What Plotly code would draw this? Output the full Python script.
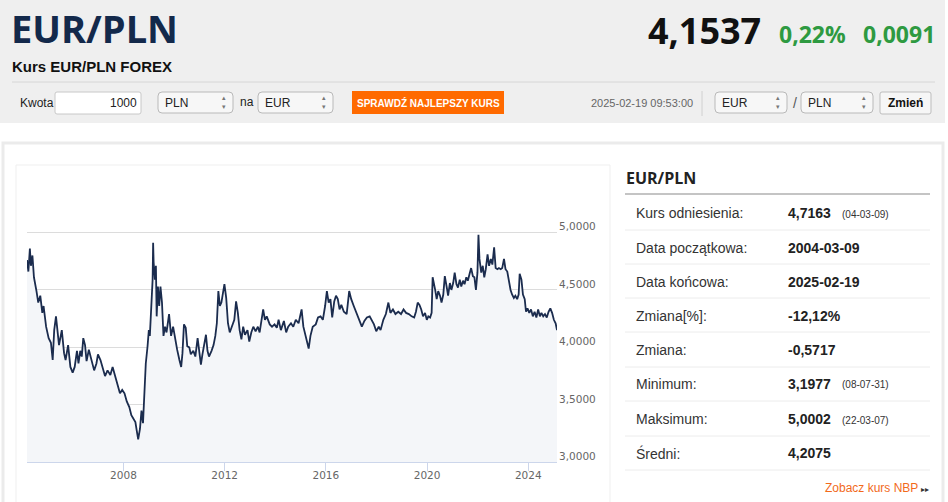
import datetime as dt
import plotly.graph_objects as go

# EUR/PLN: decimal year -> rate
years = [
    2004.186, 2004.24, 2004.30, 2004.34, 2004.40, 2004.46, 2004.56, 2004.63, 2004.71, 2004.79,
    2004.84, 2004.94, 2005.04, 2005.13, 2005.20, 2005.26, 2005.33, 2005.39, 2005.45, 2005.56,
    2005.65, 2005.71, 2005.81, 2005.90, 2005.99, 2006.07, 2006.16, 2006.22, 2006.29, 2006.35,
    2006.41, 2006.48, 2006.54, 2006.63, 2006.73, 2006.84, 2006.93, 2006.99, 2007.09, 2007.18,
    2007.27, 2007.37, 2007.48, 2007.57, 2007.66, 2007.76, 2007.86, 2007.95, 2008.04, 2008.13,
    2008.23, 2008.31, 2008.40, 2008.47, 2008.52, 2008.58, 2008.65, 2008.71, 2008.77, 2008.83,
    2008.88, 2008.95, 2009.00, 2009.04, 2009.10, 2009.15, 2009.17,
    2009.19, 2009.24, 2009.28, 2009.31, 2009.36, 2009.41, 2009.46, 2009.52, 2009.58, 2009.64,
    2009.70, 2009.80, 2009.88, 2009.96, 2010.04, 2010.12, 2010.21, 2010.28, 2010.33, 2010.39,
    2010.46, 2010.52, 2010.60, 2010.66, 2010.76, 2010.84, 2010.93, 2011.00, 2011.06, 2011.12,
    2011.20, 2011.26, 2011.32, 2011.38, 2011.48, 2011.56, 2011.63, 2011.69, 2011.75, 2011.81,
    2011.87, 2011.93, 2011.99, 2012.06, 2012.13, 2012.20, 2012.29, 2012.38, 2012.45, 2012.52,
    2012.59, 2012.66, 2012.73, 2012.80, 2012.90, 2012.97, 2013.05, 2013.13, 2013.22, 2013.31,
    2013.38, 2013.47, 2013.52, 2013.59, 2013.66, 2013.78, 2013.87, 2013.97, 2014.06, 2014.13,
    2014.22,
    2014.34, 2014.43, 2014.51, 2014.62, 2014.71, 2014.81, 2014.92, 2015.04, 2015.11, 2015.20,
    2015.32, 2015.39, 2015.48, 2015.60, 2015.69, 2015.79, 2015.88, 2015.97, 2016.04, 2016.11,
    2016.18, 2016.25, 2016.33, 2016.40, 2016.47, 2016.54, 2016.61, 2016.71, 2016.82, 2016.92,
    2017.00, 2017.10, 2017.20, 2017.31, 2017.42, 2017.52, 2017.62, 2017.73, 2017.80, 2017.90,
    2017.99, 2018.09, 2018.16, 2018.27, 2018.37, 2018.47, 2018.55, 2018.65, 2018.75, 2018.86,
    2018.97, 2019.07, 2019.17, 2019.28, 2019.39, 2019.49, 2019.56, 2019.63, 2019.70,
    2019.77, 2019.84, 2019.92, 2019.99, 2020.05, 2020.12, 2020.18, 2020.22, 2020.27, 2020.32,
    2020.38, 2020.44, 2020.51, 2020.57, 2020.64, 2020.70, 2020.77, 2020.83, 2020.90, 2020.96,
    2021.03, 2021.09, 2021.16, 2021.22, 2021.29, 2021.35, 2021.42, 2021.48, 2021.55, 2021.61,
    2021.68, 2021.74, 2021.81, 2021.87, 2021.93, 2021.99, 2022.03, 2022.07, 2022.14, 2022.20,
    2022.26, 2022.32, 2022.39, 2022.45, 2022.52, 2022.58, 2022.65, 2022.71, 2022.78, 2022.84,
    2022.91, 2022.97, 2023.04, 2023.10, 2023.17, 2023.23, 2023.30, 2023.36, 2023.43, 2023.49,
    2023.56, 2023.62, 2023.66, 2023.73, 2023.79, 2023.86, 2023.91, 2023.97, 2024.04, 2024.11,
    2024.18, 2024.25, 2024.32, 2024.39, 2024.46, 2024.52, 2024.59, 2024.66, 2024.73, 2024.80,
    2024.87, 2024.94, 2025.01, 2025.08, 2025.134,
]
rates = [
    4.76, 4.66, 4.86, 4.71, 4.80, 4.61, 4.49, 4.39, 4.45, 4.30,
    4.36, 4.18, 4.08, 4.04, 3.89, 4.15, 4.27, 4.15, 4.02, 4.15,
    3.95, 3.89, 4.02, 3.83, 3.78, 3.83, 3.97, 3.86, 3.97, 3.92,
    4.08, 4.02, 3.88, 3.98, 3.89, 3.80, 3.86, 3.94, 3.89, 3.82,
    3.75, 3.80, 3.76, 3.83, 3.76, 3.66, 3.60, 3.63, 3.60, 3.53,
    3.48, 3.41, 3.38, 3.35, 3.28, 3.20, 3.29, 3.45, 3.34, 3.57,
    3.86, 4.01, 4.15, 4.10, 4.39, 4.59, 4.91,
    4.74, 4.59, 4.71, 4.27, 4.53, 4.36, 4.53, 4.39, 4.10, 4.18,
    4.13, 4.29, 4.10, 4.18, 4.07, 3.98, 3.89, 3.83, 3.95, 4.20,
    4.17, 4.01, 4.00, 3.94, 3.97, 3.92, 4.08, 3.95, 3.85, 3.94,
    4.02, 4.11, 3.97, 3.92, 3.97, 4.02, 4.10, 4.21, 4.49, 4.36,
    4.39, 4.49, 4.55, 4.43, 4.21, 4.13, 4.18, 4.24, 4.40, 4.30,
    4.15, 4.07, 4.18, 4.11, 4.15, 4.05, 4.13, 4.18, 4.14, 4.18,
    4.13, 4.26, 4.33, 4.24, 4.27, 4.20, 4.18, 4.20, 4.17, 4.24,
    4.15,
    4.23, 4.13, 4.18, 4.21, 4.18, 4.24, 4.21, 4.33, 4.18, 4.10,
    3.99, 4.10, 4.18, 4.20, 4.26, 4.27, 4.24, 4.36, 4.49, 4.39,
    4.42, 4.26, 4.40, 4.45, 4.42, 4.33, 4.37, 4.31, 4.29, 4.49,
    4.42, 4.36, 4.30, 4.24, 4.18, 4.23, 4.26, 4.27, 4.24, 4.20,
    4.14, 4.18, 4.15, 4.24, 4.29, 4.39, 4.30, 4.33, 4.29, 4.31,
    4.29, 4.33, 4.30, 4.29, 4.27, 4.26, 4.31, 4.39, 4.37,
    4.33, 4.27, 4.30, 4.24, 4.27, 4.26, 4.30, 4.61, 4.56, 4.50,
    4.42, 4.49, 4.45, 4.39, 4.46, 4.62, 4.53, 4.45, 4.56, 4.50,
    4.56, 4.65, 4.55, 4.52, 4.59, 4.53, 4.58, 4.55, 4.61, 4.58,
    4.64, 4.69, 4.62, 4.61, 4.50, 4.65, 4.98, 4.77, 4.65, 4.71,
    4.61, 4.68, 4.81, 4.71, 4.77, 4.72, 4.87, 4.69, 4.68, 4.69,
    4.68, 4.69, 4.77, 4.68, 4.66, 4.58, 4.50, 4.46, 4.43, 4.45,
    4.42, 4.46, 4.64, 4.59, 4.46, 4.42, 4.31, 4.34, 4.30, 4.33,
    4.27, 4.31, 4.26, 4.33, 4.27, 4.30, 4.27, 4.29, 4.26, 4.31,
    4.34, 4.30, 4.24, 4.21, 4.15,
]

x_tick_years = [2008, 2012, 2016, 2020, 2024]
y_ticks = [3.0, 3.5, 4.0, 4.5, 5.0, 5.5]

stat_labels = ["Kurs odniesienia:", "Data początkowa:", "Data końcowa:", "Zmiana[%]:",
               "Zmiana:", "Minimum:", "Maksimum:", "Średni:"]
stat_values = ["4,7163", "2004-03-09", "2025-02-19", "-12,12%",
               "-0,5717", "3,1977", "5,0002", "4,2075"]
stat_dates = ["(04-03-09)", "", "", "", "", "(08-07-31)", "(22-03-07)", ""]


def to_date(y):
    yr = int(y)
    a = dt.datetime(yr, 1, 1)
    b = dt.datetime(yr + 1, 1, 1)
    return a + (b - a) * (y - yr)


dates = [to_date(y) for y in years]

W, H = 948, 502
ARIAL = "Liberation Sans, Arial, sans-serif"
OPEN = "Open Sans, sans-serif"


def px(x):
    return x / W


def py(y):
    return 1 - y / H


shapes = []
notes = []


def text(x, y, s, size, color, weight="normal", anchor="left", family=ARIAL):
    # annotation boxes carry ~2px of padding, take it back off
    if anchor == "left":
        x -= 2
    elif anchor == "right":
        x += 2
    notes.append(dict(x=px(x), y=py(y), xref="paper", yref="paper", text=s, showarrow=False,
                      xanchor=anchor, yanchor="middle",
                      font=dict(size=size, color=color, family=family, weight=weight)))


def rect(x0, y0, x1, y1, fill, line="rgba(0,0,0,0)", lw=1):
    shapes.append(dict(type="rect", xref="paper", yref="paper", x0=px(x0), x1=px(x1),
                       y0=py(y1), y1=py(y0), fillcolor=fill, line=dict(color=line, width=lw),
                       layer="below"))


def hline(x0, x1, y, color, lw=1):
    shapes.append(dict(type="line", xref="paper", yref="paper", x0=px(x0), x1=px(x1),
                       y0=py(y), y1=py(y), line=dict(color=color, width=lw), layer="below"))


def rrect(x0, y0, x1, y1, r, fill, line, lw=1):
    p = (f"M {px(x0 + r)},{py(y0)} L {px(x1 - r)},{py(y0)} Q {px(x1)},{py(y0)} {px(x1)},{py(y0 + r)} "
         f"L {px(x1)},{py(y1 - r)} Q {px(x1)},{py(y1)} {px(x1 - r)},{py(y1)} "
         f"L {px(x0 + r)},{py(y1)} Q {px(x0)},{py(y1)} {px(x0)},{py(y1 - r)} "
         f"L {px(x0)},{py(y0 + r)} Q {px(x0)},{py(y0)} {px(x0 + r)},{py(y0)} Z")
    shapes.append(dict(type="path", path=p, xref="paper", yref="paper", fillcolor=fill,
                       line=dict(color=line, width=lw), layer="below"))


def select(x0, x1, label):
    rrect(x0, 92, x1, 113, 4, "#f7f7f7", "#b9b9b9")
    text(x0 + 7, 102.5, label, 12, "#222")
    notes.append(dict(x=px(x1 - 9), y=py(102.5), xref="paper", yref="paper",
                      text="▴<br>▾", showarrow=False, xanchor="center", yanchor="middle",
                      font=dict(size=7, color="#777", family="DejaVu Sans")))


# header
rect(0, 0, 945, 123, "#efefef")
text(11, 28, "EUR/PLN", 38, "#13294b", weight="bold", family=OPEN)
text(12, 66, "Kurs EUR/PLN FOREX", 15, "#111", weight="bold")
text(761, 31, "4,1537", 36, "#111", weight="bold", anchor="right", family=OPEN)
text(846, 34, "0,22%", 23, "#2e9a41", weight="bold", anchor="right", family=OPEN)
text(935, 34, "0,0091", 23, "#2e9a41", weight="bold", anchor="right", family=OPEN)
hline(12, 935, 82, "#d6d6d6")

text(20, 103, "Kwota", 12, "#222")
rrect(55, 92, 141, 114, 2, "#ffffff", "#c8c8c8")
text(137, 103, "1000", 12, "#222", anchor="right")
select(158, 233, "PLN")
text(240, 102, "na", 12, "#222")
select(258, 333, "EUR")
rect(352, 91, 504, 114, "#ff6a00")
text(428, 102.5, "SPRAWDŹ NAJLEPSZY KURS", 10, "#ffffff", weight="bold", anchor="center")
text(642, 103, "2025-02-19 09:53:00", 11, "#666", anchor="center")
shapes.append(dict(type="line", xref="paper", yref="paper", x0=px(702), x1=px(702),
                   y0=py(116), y1=py(91), line=dict(color="#d0d0d0", width=1), layer="below"))
select(715, 787, "EUR")
text(795, 103, "/", 14, "#555", anchor="center")
select(801, 873, "PLN")
rrect(880, 92, 931, 114, 2, "#f6f6f6", "#bdbdbd")
text(905.5, 103, "Zmień", 12, "#111", weight="bold", anchor="center")

# panels
rect(3, 143, 943, 510, "#ffffff", "#ebebeb", 3)
rect(16, 165, 610, 510, "#ffffff", "#efefef", 1)

# stats table
text(626, 178, "EUR/PLN", 16, "#222", weight="bold", family=OPEN)
hline(625, 930, 194, "#c4c4c4", 2)
row_y = [213, 247.5, 281.5, 315.5, 349.5, 383.5, 419, 453]
sep_y = [230, 264, 298, 332, 367, 401, 436, 470]
for lab, val, d, yy, sy in zip(stat_labels, stat_values, stat_dates, row_y, sep_y):
    text(636, yy, lab, 14, "#333")
    text(788, yy, val, 14, "#222", weight="bold")
    if d:
        text(842, yy + 1, d, 10, "#333")
    hline(625, 930, sy, "#ececec")
text(918, 488, "Zobacz kurs NBP", 12, "#f26a1b", anchor="right")
text(925, 489, "▸▸", 8, "#333", anchor="center", family="DejaVu Sans")

fig = go.Figure()
fig.add_trace(go.Scatter(
    x=dates, y=rates, mode="lines",
    line=dict(color="#1b2c4e", width=1.8),
    fill="tozeroy", fillcolor="#f4f6f9",
    hoverinfo="skip", showlegend=False,
))

fig.update_layout(
    width=W, height=H,
    margin=dict(l=0, r=0, t=0, b=0, autoexpand=False),
    paper_bgcolor="#ffffff", plot_bgcolor="rgba(0,0,0,0)",
    separators=", ",
    shapes=shapes, annotations=notes,
    xaxis=dict(
        domain=[px(27), px(557)],
        range=[dates[0], dates[-1]],
        type="date",
        tickvals=[dt.datetime(y, 1, 1) for y in x_tick_years],
        ticktext=[str(y) for y in x_tick_years],
        ticks="outside", ticklen=8, tickcolor="#ccd6eb", tickwidth=1,
        ticklabelstandoff=-5,
        showline=True, linecolor="#ccd6eb", linewidth=1,
        showgrid=False, zeroline=False,
        tickfont=dict(family="DejaVu Sans", size=10.5, color="#666"),
    ),
    yaxis=dict(
        domain=[py(462.3), py(175)],
        range=[3.0, 5.5],
        side="right",
        tickvals=y_ticks,
        ticktext=[f"{v:.4f}".replace(".", ",") for v in y_ticks[:-1]] + [""],
        ticklabelshift=-6, ticklabelstandoff=1,
        showgrid=True, gridcolor="#dcdcdc", gridwidth=1,
        zeroline=False, showline=False, ticks="",
        tickfont=dict(family="DejaVu Sans", size=10.5, color="#666"),
    ),
)

# the page body has a default 8px margin; drop it so the figure fills the window
fig.write_html("out.html", config={"displayModeBar": False},
               post_script="document.body.style.margin = '0';")
